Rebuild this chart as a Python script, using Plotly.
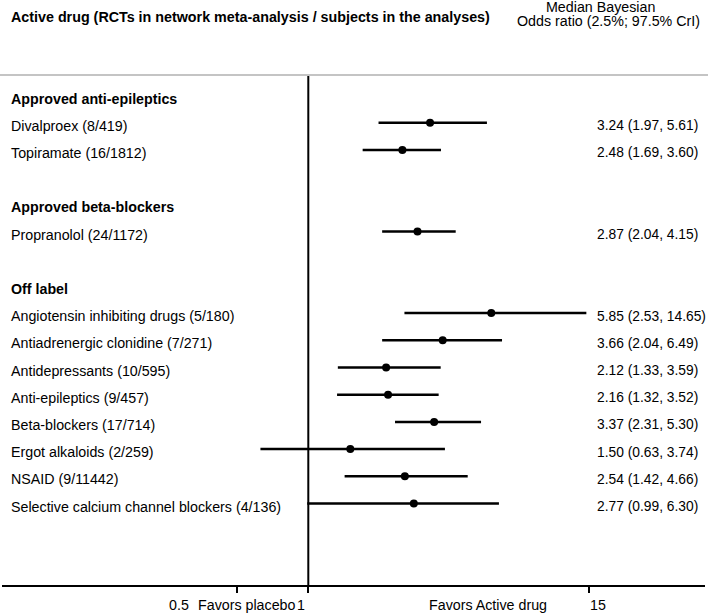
import plotly.graph_objects as go
import math

# ---------------- data ----------------
groups = ["Approved anti-epileptics", "Approved beta-blockers", "Off label"]
drug_labels = [
    ["Divalproex (8/419)", "Topiramate (16/1812)"],
    ["Propranolol (24/1172)"],
    ["Angiotensin inhibiting drugs (5/180)", "Antiadrenergic clonidine (7/271)",
     "Antidepressants (10/595)", "Anti-epileptics (9/457)", "Beta-blockers (17/714)",
     "Ergot alkaloids (2/259)", "NSAID (9/11442)",
     "Selective calcium channel blockers (4/136)"],
]
median_or = [[3.24, 2.48], [2.87], [5.85, 3.66, 2.12, 2.16, 3.37, 1.50, 2.54, 2.77]]
lower_cri = [[1.97, 1.69], [2.04], [2.53, 2.04, 1.33, 1.32, 2.31, 0.63, 1.42, 0.99]]
upper_cri = [[5.61, 3.60], [4.15], [14.65, 6.49, 3.59, 3.52, 5.30, 3.74, 4.66, 6.30]]
tick_vals = [0.5, 1, 15]
tick_labels = ["0.5", "1", "15"]
favor_left = "Favors placebo"
favor_right = "Favors Active drug"
header_left = "Active drug (RCTs in network meta-analysis / subjects in the analyses)"
header_right = ["Median Bayesian", "Odds ratio (2.5%; 97.5% CrI)"]

# ---------------- layout geometry ----------------
W, H = 708, 616
ML, MR, MT, MB = 2, 3, 75, 31
PX_ONE, PX_DEC = 308.3, 238.5      # pixel of OR=1 and pixels per decade
ROW0, ROWH = 95.5, 27.2            # pixel of first row and row spacing
FONT = "Arial, Liberation Sans, sans-serif"
FS = 14.25
FS_VAL = 13.8
ROW_TEXT_SHIFT = -3

def px_to_log(px):
    return (px - PX_ONE) / PX_DEC

def px_to_paper_x(px):
    return (px - ML) / (W - ML - MR)

def px_to_paper_y(py):
    return 1 - (py - MT) / (H - MT - MB)

x_range = [px_to_log(ML), px_to_log(W - MR)]
y_range = [(H - MB - ROW0) / ROWH, (MT - ROW0) / ROWH]

# assign rows
header_rows, item_rows = [], []
r = 0
for gi, g in enumerate(groups):
    header_rows.append(r)
    r += 1
    rows = []
    for _ in drug_labels[gi]:
        rows.append(r)
        r += 1
    item_rows.append(rows)
    r += 1  # blank row

fig = go.Figure()
annotations = []

def txt(text, x, y, xref="paper", yref="paper", xanchor="left", size=FS, **kw):
    d = dict(text=text, xref=xref, yref=yref, x=x, y=y, xanchor=xanchor,
             yanchor="middle", showarrow=False,
             font=dict(family=FONT, size=size, color="black"))
    d.update(kw)
    return d

for gi, g in enumerate(groups):
    annotations.append(txt("<b>%s</b>" % g, px_to_paper_x(9), header_rows[gi], yref="y",
                           yshift=ROW_TEXT_SHIFT))
    for lab, m, lo, hi, row in zip(drug_labels[gi], median_or[gi], lower_cri[gi],
                                   upper_cri[gi], item_rows[gi]):
        fig.add_trace(go.Scatter(x=[lo, hi], y=[row, row], mode="lines",
                                 line=dict(color="black", width=2.5),
                                 showlegend=False, hoverinfo="skip"))
        fig.add_trace(go.Scatter(x=[m], y=[row], mode="markers",
                                 marker=dict(color="black", size=8, symbol="circle"),
                                 showlegend=False))
        annotations.append(txt(lab, px_to_paper_x(9), row, yref="y",
                               yshift=ROW_TEXT_SHIFT))
        annotations.append(txt("%.2f (%.2f, %.2f)" % (m, lo, hi),
                               px_to_paper_x(595), row, yref="y", size=FS_VAL,
                               yshift=ROW_TEXT_SHIFT))

# header texts
annotations.append(txt("<b>%s</b>" % header_left, px_to_paper_x(9), px_to_paper_y(17.5),
                       size=14.3))
annotations.append(txt(header_right[0], px_to_paper_x(600), px_to_paper_y(7),
                       xanchor="center"))
annotations.append(txt(header_right[1], px_to_paper_x(608), px_to_paper_y(21.5),
                       xanchor="center"))

# axis tick labels and favors texts
tick_anchor = {"0.5": ("right", -46), "1": ("right", -1), "15": ("left", -1)}
for v, t in zip(tick_vals, tick_labels):
    anc, sh = tick_anchor[t]
    annotations.append(txt(t, math.log10(v), px_to_paper_y(605), xref="x",
                           xanchor=anc, xshift=sh))
annotations.append(txt(favor_left, px_to_paper_x(246.7), px_to_paper_y(605),
                       xanchor="center"))
annotations.append(txt(favor_right, px_to_paper_x(487.5), px_to_paper_y(605),
                       xanchor="center"))

shapes = [
    # vertical line at OR = 1
    dict(type="line", xref="x", yref="paper", x0=1, x1=1, y0=0, y1=1,
         line=dict(color="black", width=2)),
    # light separator under header
    dict(type="line", xref="paper", yref="paper", x0=px_to_paper_x(0),
         x1=px_to_paper_x(W), y0=1, y1=1, line=dict(color="#c4c4c4", width=2)),
]

fig.update_layout(
    width=W, height=H,
    margin=dict(l=ML, r=MR, t=MT, b=MB),
    paper_bgcolor="white", plot_bgcolor="white",
    xaxis=dict(type="log", range=x_range, showgrid=False, zeroline=False,
               showline=True, linecolor="black", linewidth=2,
               tickvals=tick_vals, ticktext=tick_labels, showticklabels=False,
               ticks="outside", ticklen=6, tickwidth=2, tickcolor="black"),
    yaxis=dict(range=y_range, visible=False),
    annotations=annotations,
    shapes=shapes,
    showlegend=False,
)

fig.write_html("out.html", config={"displayModeBar": False},
               post_script="document.body.style.margin='0';"
                           "document.body.style.overflow='hidden';")
